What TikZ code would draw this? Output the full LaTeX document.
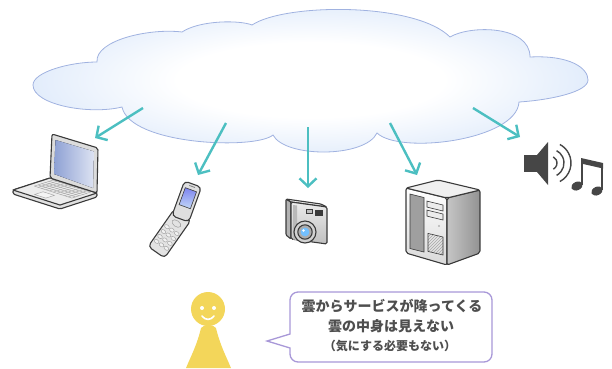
\documentclass[tikz,border=0pt]{standalone}
\usepackage{fontspec}
\newfontfamily\cjk{Noto Sans CJK JP}
\usetikzlibrary{arrows.meta,patterns}
\definecolor{cloudblue}{HTML}{C2D8F7}
\definecolor{cloudedge}{HTML}{A0B2E0}
\definecolor{teal}{HTML}{4CBFC1}
\definecolor{ink}{HTML}{3A3A3A}
\definecolor{shell}{HTML}{DCDCDC}
\definecolor{lcd}{HTML}{8EA1D4}
\definecolor{face}{HTML}{F3D65A}
\definecolor{lilac}{HTML}{A898D8}
\pgfdeclareradialshading{cloudfill}{\pgfpoint{0bp}{0bp}}{color(0bp)=(white); color(12bp)=(white); color(40bp)=(cloudblue); color(50bp)=(cloudblue)}

\begin{document}
\begin{tikzpicture}[x=1pt,y=-1pt,
  flow/.style={teal,line width=2.4pt,-{Straight Barb[length=8pt,width=17pt]}},
  body/.style={draw=ink,line width=1.1pt,line join=round},
  keyline/.style={gray!70,line width=0.45pt},
  wave/.style={gray!55!black,line width=1.4pt},
  msg/.style={text=ink!90,inner sep=0pt}]
\useasboundingbox (0,0) rectangle (612,368);

% cloud
\shadedraw[shading=cloudfill,draw=cloudedge,line width=0.8pt]
  (33,85) .. controls (33,72) and (70,62) .. (97,62)
  .. controls (95,40) and (150,28) .. (182,32)
  .. controls (200,20) and (240,20) .. (252,25)
  .. controls (285,3) and (415,2) .. (450,37)
  .. controls (470,25) and (530,25) .. (530,57)
  .. controls (570,55) and (588,68) .. (588,80)
  .. controls (588,92) and (550,100) .. (519,102)
  .. controls (517,140) and (400,155) .. (377,133)
  .. controls (365,158) and (285,158) .. (273,135)
  .. controls (255,150) and (130,145) .. (122,107)
  .. controls (90,115) and (33,105) .. (33,85) -- cycle;

% where the arrows start and end
\coordinate (src1) at (143,108);
\coordinate (src2) at (226,123);
\coordinate (src3) at (308,127);
\coordinate (src4) at (390,123);
\coordinate (src5) at (473,108);
\coordinate (laptop) at (95,138);
\coordinate (phone) at (198,175);
\coordinate (camera) at (308,188);
\coordinate (server) at (417,175);
\coordinate (speaker) at (520,137);

\draw[flow] (src1) -- (laptop);
\draw[flow] (src2) -- (phone);
\draw[flow] (src3) -- (camera);
\draw[flow] (src4) -- (server);
\draw[flow] (src5) -- (speaker);

% laptop
\draw[body,fill=shell!85,rounded corners=1.5pt] (13,190) -- (50,178) -- (97,193) -- (97,197) -- (60,209) -- (13,194) -- cycle;
\draw[body,fill=shell!55] (13,190) -- (50,178) -- (97,193) -- (60,205) -- cycle;
\foreach \s in {0.45,0.55,...,0.96}
  \draw[keyline] ({13+37*\s+47*0.1},{190-12*\s+15*0.1}) -- ({13+37*\s+47*0.9},{190-12*\s+15*0.9});
\foreach \t in {0.1,0.18,...,0.91}
  \draw[keyline] ({13+37*0.45+47*\t},{190-12*0.45+15*\t}) -- ({13+37*0.95+47*\t},{190-12*0.95+15*\t});
\draw[keyline,fill=shell!30] ({13+37*0.1+47*0.38},{190-12*0.1+15*0.38}) -- ({13+37*0.33+47*0.38},{190-12*0.33+15*0.38})
  -- ({13+37*0.33+47*0.62},{190-12*0.33+15*0.62}) -- ({13+37*0.1+47*0.62},{190-12*0.1+15*0.62}) -- cycle;
\draw[body,fill=shell,rounded corners=2pt] (50,178) -- (52,134) -- (98,148) -- (97,193) -- cycle;
\fill[left color=lcd,right color=lcd!30] (54,174) -- (55.5,140) -- (94,151.5) -- (93,188) -- cycle;

% mobile phone
\begin{scope}[shift={(181,217)},rotate=-35]
  \draw[body,fill=shell!80,rounded corners=4pt] (-10,-3) rectangle (10,43);
  \draw[gray!70,line width=0.6pt] (0,8) ellipse (5 and 3);
  \foreach \i in {-6,0,6}
    \foreach \j in {16,22,28,34}
      \draw[gray!70,line width=0.5pt,fill=shell!40] (\i,\j) ellipse (2.6 and 1.8);
\end{scope}
\begin{scope}[shift={(181,217)},rotate=-20]
  \draw[body,fill=shell!90,rounded corners=4pt] (-9,2) rectangle (9,-35);
  \draw[ink,line width=0.6pt,top color=lcd!50!blue!70,bottom color=cloudblue] (-6,-29) rectangle (6,-11);
  \draw[gray,line width=0.8pt] (-3,-32.5) -- (3,-32.5);
\end{scope}

% digital camera
\draw[body,fill=gray!60,rounded corners=1pt] (286,199) -- (291,202) -- (291,239) -- (286,235) -- cycle;
\draw[body,fill=gray!15,rounded corners=1pt] (286,199) -- (321,204) -- (327,207) -- (291,202) -- cycle;
\draw[body,top color=gray!15,bottom color=gray!50,rounded corners=1.5pt] (291,202) -- (327,207) -- (327,244) -- (291,239) -- cycle;
\fill[gray!55] (293,205) -- (297,205.5) -- (297,240) -- (293,239.5) -- cycle;
\draw[ink,line width=0.6pt,fill=gray!50] (306,209) rectangle (312,213);
\draw[ink,line width=0.6pt,fill=ink] (315,210.5) rectangle (322,215);
\draw[body,fill=gray!35] (305,232) circle (11);
\draw[body,fill=gray!65] (305,232) circle (7.2);
\fill[blue!45!cyan!55!white] (305,232) circle (4.4);
\fill[white] (303.5,230.5) circle (1.3);

% server
\draw[body,top color=white,bottom color=gray!30,rounded corners=2pt] (406,188) -- (447,198) -- (447,265) -- (406,253) -- cycle;
\draw[body,left color=gray!45,right color=gray!85,rounded corners=2pt] (447,198) -- (480,190) -- (480,253) -- (447,265) -- cycle;
\draw[body,fill=gray!12,rounded corners=2pt] (406,188) -- (438,180) -- (480,190) -- (447,198) -- cycle;
\draw[ink,line width=0.6pt,fill=gray!75] (410,194) -- (424,197.5) -- (424,252) -- (410,248.5) -- cycle;
\draw[ink,line width=0.6pt,fill=gray!15] (427,201.1) -- (443,205) -- (443,211) -- (427,207.1) -- cycle;
\draw[ink,line width=0.6pt,fill=gray!15] (427,210.1) -- (443,214) -- (443,220) -- (427,216.1) -- cycle;
\fill[gray!60] (439,226) circle (1.2);
\draw[ink,line width=0.6pt,pattern=north east lines,pattern color=gray!70] (428,233.4) -- (443,237) -- (443,255) -- (428,251.4) -- cycle;

% speaker and note
\coordinate (spk) at (550,163);
\fill[gray!55!black] (524,155) rectangle (537,172);
\fill[gray!55!black] (537,155) -- (548,142) -- (548,185) -- (537,172) -- cycle;
\foreach \r in {7,14,21}
  \draw[wave] ([shift={(-62:\r pt)}]spk) arc[start angle=-62,end angle=62,radius=\r pt];
\fill[gray!55!black,rotate around={25:(577,186)}] (577,186) ellipse (6 and 4.2);
\fill[gray!55!black,rotate around={25:(597,191)}] (597,191) ellipse (6 and 4.2);
\draw[gray!55!black,line width=2pt] (582,185) -- (582,161);
\draw[gray!55!black,line width=2pt] (602,190) -- (602,166);
\fill[gray!55!black] (581,158) -- (603,163) -- (603,168.5) -- (581,163.5) -- cycle;

% person
\fill[face] (201,328) .. controls (197,345) and (191,356) .. (186,368) -- (231,368)
  .. controls (226,356) and (220,345) .. (216,328) .. controls (213,324) and (204,324) .. (201,328) -- cycle;
\fill[face] (208,309) circle (17);
\fill[white] (202,308) circle (2);
\fill[white] (214,308) circle (2);
\draw[white,line width=1.6pt,line cap=round] (202,316) .. controls (205,320.5) and (211,320.5) .. (214,316);

% speech bubble
\draw[lilac,line width=1.3pt,fill=white] (290,334) [rounded corners=8pt] -- (290,292) -- (492,292) -- (492,362) -- (290,362)
  [sharp corners] -- (290,348) -- (267,341) -- cycle;
\node[msg,font=\cjk\bfseries\fontsize{14}{16}\selectfont] (line1) at (392,306) {雲からサービスが降ってくる};
\node[msg,font=\cjk\bfseries\fontsize{14}{16}\selectfont] (line2) at (391,326) {雲の中身は見えない};
\node[msg,font=\cjk\bfseries\fontsize{12}{14}\selectfont] (line3) at (390,346) {（気にする必要もない）};
\end{tikzpicture}
\end{document}
